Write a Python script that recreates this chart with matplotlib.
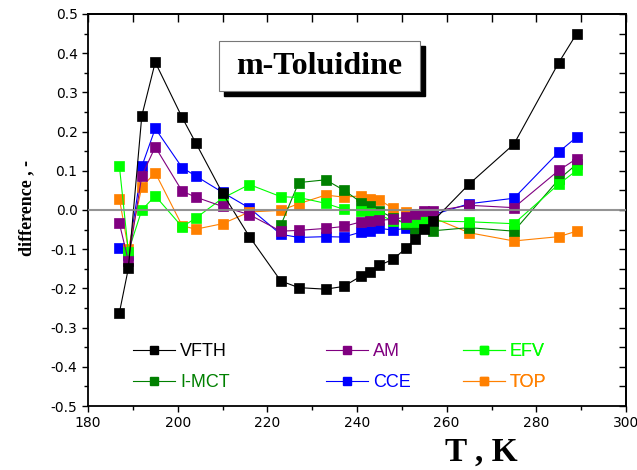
import matplotlib
matplotlib.use('Agg')
import numpy as np
import matplotlib.pyplot as plt
import matplotlib.ticker as mticker
from matplotlib.lines import Line2D
from matplotlib.patches import Rectangle

# Temperatures, K
T = [187, 189, 192, 195, 201, 204, 210, 216, 223, 227, 233, 237,
     241, 243, 245, 248, 251, 253, 255, 257, 265, 275, 285, 289]
T_imct = T[8:]

vfth = [-0.262, -0.149, 0.240, 0.377, 0.236, 0.172, 0.043, -0.068, -0.181, -0.198, -0.202, -0.195,
        -0.168, -0.157, -0.141, -0.126, -0.097, -0.073, -0.049, -0.028, 0.066, 0.168, 0.376, 0.450]
am = [-0.034, -0.130, 0.087, 0.161, 0.048, 0.033, 0.009, -0.012, -0.054, -0.052, -0.047, -0.042,
      -0.030, -0.028, -0.026, -0.024, -0.018, -0.010, -0.002, -0.003, 0.012, 0.006, 0.101, 0.131]
efv = [0.112, -0.106, 0.000, 0.036, -0.043, -0.021, 0.030, 0.065, 0.034, 0.032, 0.017, 0.002,
       -0.002, -0.008, -0.012, -0.028, -0.031, -0.031, -0.028, -0.028, -0.030, -0.035, 0.066, 0.101]
imct = [-0.039, 0.070, 0.077, 0.051, 0.019, 0.009, -0.002, -0.020, -0.035, -0.049, -0.047, -0.053,
        -0.045, -0.054, 0.078, 0.117]
cce = [-0.096, -0.115, 0.111, 0.208, 0.108, 0.087, 0.045, 0.005, -0.062, -0.070, -0.068, -0.069,
       -0.056, -0.054, -0.047, -0.051, -0.047, -0.045, -0.030, -0.012, 0.016, 0.030, 0.148, 0.186]
top = [0.029, -0.100, 0.059, 0.095, -0.040, -0.049, -0.035, -0.005, -0.001, 0.016, 0.038, 0.033,
       0.036, 0.029, 0.026, 0.004, -0.005, -0.011, -0.008, -0.020, -0.058, -0.079, -0.068, -0.054]

colors = {
    'VFTH': '#000000',
    'AM': '#800080',
    'EFV': '#00ff00',
    'I-MCT': '#008000',
    'CCE': '#0000ff',
    'TOP': '#ff8000',
}

# drawing order (last on top)
series = [
    ('CCE', T, cce),
    ('TOP', T, top),
    ('I-MCT', T_imct, imct),
    ('EFV', T, efv),
    ('AM', T, am),
    ('VFTH', T, vfth),
]

fig = plt.figure(figsize=(6.37, 4.70), dpi=100)
ax = fig.add_axes([88/637, 1 - 406/470, 538/637, 392/470])

ax.axhline(0, color='#888888', lw=1.5, alpha=0.9, zorder=4)

for name, x, y in series:
    ax.plot(x, y, '-', color=colors[name], lw=0.8, marker='s', ms=6.5,
            mec=colors[name], mew=0.5, zorder=3)

ax.set_xlim(180, 300)
ax.set_ylim(-0.5, 0.5)

ax.xaxis.set_major_locator(mticker.MultipleLocator(20))
ax.xaxis.set_minor_locator(mticker.MultipleLocator(10))
ax.yaxis.set_major_locator(mticker.MultipleLocator(0.1))
ax.yaxis.set_minor_locator(mticker.MultipleLocator(0.05))
ax.yaxis.set_major_formatter(mticker.FuncFormatter(lambda v, p: f"{round(v, 1) + 0.0:.1f}"))

ax.tick_params(which='both', direction='out', top=False, right=False,
               labelsize=10, width=1.0)
ax.tick_params(which='major', length=4)
ax.tick_params(which='minor', length=3)
for sp in ax.spines.values():
    sp.set_linewidth(1.3)

# inward ticks on top / right
axt = ax.secondary_xaxis('top')
axt.xaxis.set_major_locator(mticker.MultipleLocator(10))
axt.xaxis.set_major_formatter(mticker.NullFormatter())
axt.tick_params(direction='in', length=6, width=1.0)
axt.spines['top'].set_linewidth(1.3)
axr = ax.secondary_yaxis('right')
axr.yaxis.set_major_locator(mticker.MultipleLocator(0.05))
axr.yaxis.set_major_formatter(mticker.NullFormatter())
axr.tick_params(direction='in', length=5, width=1.0)
axr.spines['right'].set_linewidth(1.3)

# title box with shadow
x0, x1 = 0.2435, 0.617
y0, y1 = 0.8036, 0.931
ax.add_patch(Rectangle((x0 + 0.0095, y0 - 0.013), x1 - x0, y1 - y0, transform=ax.transAxes,
                       facecolor='black', edgecolor='black', zorder=5))
ax.add_patch(Rectangle((x0, y0), x1 - x0, y1 - y0, transform=ax.transAxes,
                       facecolor='white', edgecolor='#777777', lw=0.8, zorder=6))
ax.text((x0 + x1) / 2, (y0 + y1) / 2, 'm-Toluidine', transform=ax.transAxes,
        ha='center', va='center', family='Liberation Serif', weight='bold',
        fontsize=23, zorder=7)

# legends: three columns of two entries
legend_cols = [
    (['VFTH', 'I-MCT'], 133),
    (['AM', 'CCE'], 326),
    (['EFV', 'TOP'], 463),
]
for names, px in legend_cols:
    handles = [Line2D([], [], color=colors[n], lw=0.8, alpha=0.6, marker='s', ms=6,
                      mfc=colors[n], mec=colors[n]) for n in names]
    leg = ax.legend(handles, names, loc='upper left',
                    bbox_to_anchor=((px - 88) / 538, (406 - 343) / 392),
                    frameon=False, borderpad=0, borderaxespad=0,
                    handlelength=2.3, handletextpad=0.3, labelspacing=0.8,
                    prop={'family': 'Liberation Sans', 'size': 13})
    for txt, n in zip(leg.get_texts(), names):
        txt.set_color(colors[n])
    for h in leg.legend_handles:
        h.set_alpha(None)
    ax.add_artist(leg)

fig.text(481/637, 1 - 452/470, 'T , K', ha='center', va='center',
         family='Liberation Serif', weight='bold', fontsize=24)
fig.text(27/637, 1 - 208/470, 'difference , -', ha='center', va='center', rotation=90,
         family='Liberation Serif', weight='bold', fontsize=13)

fig.savefig('out.png', dpi=100)
